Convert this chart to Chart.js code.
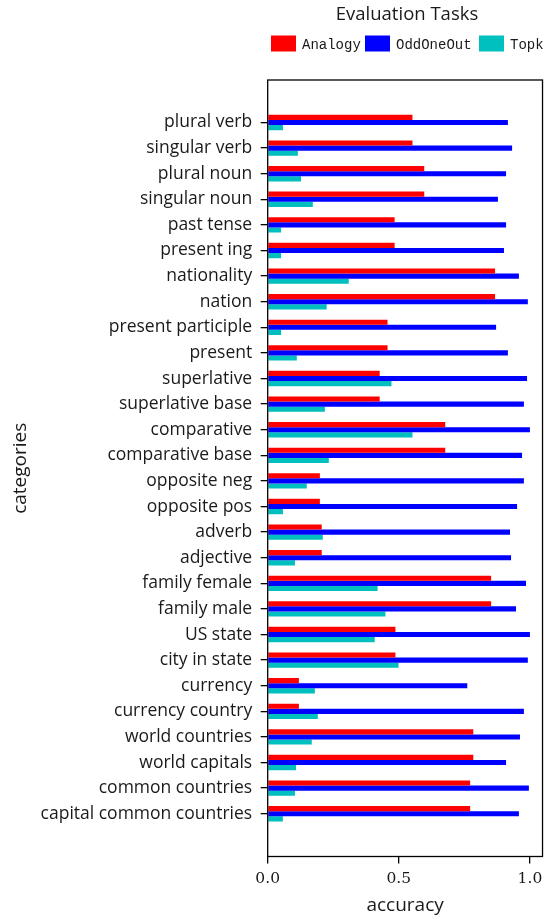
<!DOCTYPE html>
<html>
<head>
<meta charset="utf-8">
<script src="https://cdn.jsdelivr.net/npm/chart.js@4/dist/chart.umd.min.js"></script>
<style>
  html, body { margin: 0; padding: 0; background: #ffffff; }
  #wrap { width: 549px; height: 915px; }
</style>
</head>
<body>
<div id="wrap"><canvas id="chart" width="549" height="915"></canvas></div>
<script>
// Word-analogy style evaluation: accuracy per category for three tasks
const categories = [
  'plural verb', 'singular verb', 'plural noun', 'singular noun', 'past tense',
  'present ing', 'nationality', 'nation', 'present participle', 'present',
  'superlative', 'superlative base', 'comparative', 'comparative base',
  'opposite neg', 'opposite pos', 'adverb', 'adjective', 'family female',
  'family male', 'US state', 'city in state', 'currency', 'currency country',
  'world countries', 'world capitals', 'common countries', 'capital common countries'
];

const analogy = [
  0.552, 0.552, 0.597, 0.597, 0.484, 0.484, 0.867, 0.867, 0.457, 0.457,
  0.427, 0.427, 0.677, 0.677, 0.199, 0.199, 0.206, 0.206, 0.852, 0.852,
  0.487, 0.487, 0.119, 0.119, 0.784, 0.784, 0.772, 0.772
];

const oddOneOut = [
  0.916, 0.932, 0.909, 0.878, 0.909, 0.901, 0.958, 0.992, 0.871, 0.916,
  0.989, 0.977, 1.000, 0.970, 0.977, 0.951, 0.924, 0.928, 0.985, 0.947,
  1.000, 0.992, 0.761, 0.977, 0.962, 0.909, 0.996, 0.958
];

const topk = [
  0.058, 0.115, 0.127, 0.172, 0.051, 0.051, 0.309, 0.225, 0.051, 0.111,
  0.472, 0.218, 0.552, 0.233, 0.149, 0.058, 0.210, 0.104, 0.419, 0.449,
  0.408, 0.499, 0.180, 0.191, 0.168, 0.108, 0.104, 0.058
];

const seriesNames = ['Analogy', 'OddOneOut', 'Topk'];
const xTicks = [0.0, 0.5, 1.0];

const TEXT = '#1a1a1a';
const SANS = "'Open Sans', sans-serif";

function toPoints(values) {
  return values.map((v, i) => ({ x: v, y: i }));
}

// Title, legend and the full axes frame
const framePlugin = {
  id: 'frame',
  afterDraw(chart) {
    const { ctx, chartArea: a } = chart;
    ctx.save();
    ctx.strokeStyle = '#000';
    ctx.lineWidth = 1.3;
    ctx.strokeRect(a.left, a.top, a.right - a.left, a.bottom - a.top);

    ctx.fillStyle = TEXT;
    ctx.font = "18.5px " + SANS;
    ctx.textAlign = 'center';
    ctx.textBaseline = 'middle';
    ctx.fillText('Evaluation Tasks', 407, 15);

    const boxX = [271, 365, 479];
    ctx.font = "14px 'Liberation Mono', monospace";
    ctx.textAlign = 'left';
    chart.data.datasets.forEach((ds, i) => {
      ctx.fillStyle = ds.backgroundColor;
      ctx.fillRect(boxX[i], 35.5, 25, 16);
      ctx.fillStyle = TEXT;
      ctx.fillText(ds.label, boxX[i] + 31, 45);
    });
    ctx.restore();
  }
};

new Chart(document.getElementById('chart'), {
  type: 'bar',
  data: {
    datasets: [
      { label: seriesNames[0], data: toPoints(analogy), backgroundColor: '#ff0000' },
      { label: seriesNames[1], data: toPoints(oddOneOut), backgroundColor: '#0000ff' },
      { label: seriesNames[2], data: toPoints(topk), backgroundColor: '#00bfbf' }
    ]
  },
  options: {
    indexAxis: 'y',
    responsive: false,
    animation: false,
    layout: { padding: { top: 80, right: 5.3, left: 0, bottom: 0 } },
    datasets: {
      bar: { categoryPercentage: 0.6, barPercentage: 1.0, borderWidth: 0 }
    },
    plugins: {
      legend: { display: false },
      tooltip: { enabled: false }
    },
    scales: {
      y: {
        type: 'linear',
        reverse: true,
        offset: false,
        min: -1.66,
        max: 28.67,
        afterBuildTicks(scale) {
          scale.ticks = categories.map((_, i) => ({ value: i }));
        },
        afterFit(scale) { scale.width = 267.7; },
        border: { display: false },
        grid: {
          offset: false,
          drawOnChartArea: false,
          drawTicks: true,
          tickLength: 7,
          tickColor: '#000',
          lineWidth: 1.3
        },
        ticks: {
          autoSkip: false,
          padding: 8.5,
          color: TEXT,
          font: { family: SANS, size: 17.5 },
          callback: (v) => categories[Math.round(v)]
        },
        title: {
          display: true,
          text: 'categories',
          color: TEXT,
          font: { family: SANS, size: 19, lineHeight: 1 },
          padding: { top: 11.5, bottom: 0 }
        }
      },
      x: {
        type: 'linear',
        min: 0,
        max: 1.048,
        afterBuildTicks(scale) {
          scale.ticks = xTicks.map(v => ({ value: v }));
        },
        afterFit(scale) { scale.height = 58.5; },
        border: { display: false },
        grid: {
          drawOnChartArea: false,
          drawTicks: true,
          tickLength: 7,
          tickColor: '#000',
          lineWidth: 1.3
        },
        ticks: {
          padding: 6.5,
          color: TEXT,
          font: { family: "'DejaVu Serif', serif", size: 15.5 },
          callback: (v) => Number(v).toFixed(1)
        },
        title: {
          display: true,
          text: 'accuracy',
          color: TEXT,
          font: { family: SANS, size: 19, lineHeight: 1 },
          padding: { top: 0, bottom: 0 }
        }
      }
    }
  },
  plugins: [framePlugin]
});
</script>
</body>
</html>
